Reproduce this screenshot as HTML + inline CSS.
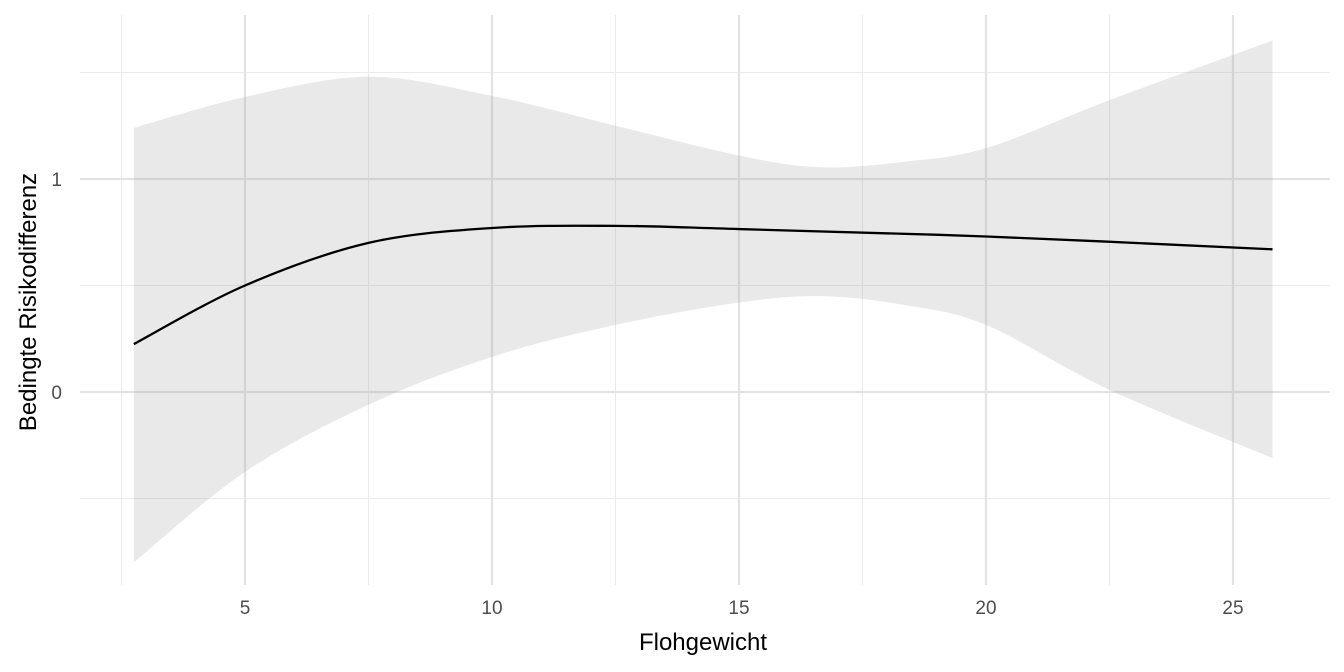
<!DOCTYPE html>
<html><head><meta charset="utf-8"><style>
body{margin:0;background:#fff}
svg{display:block;font-family:"Liberation Sans",Arial,sans-serif}
</style></head><body>
<svg id="chart" width="1344" height="672">
<g id="grid"></g>
<g id="band"></g>
<g id="line"></g>
<g id="ticks"></g>
<text x="703" y="650" text-anchor="middle" font-size="24" fill="#000">Flohgewicht</text>
<text transform="translate(36,302) rotate(-90)" text-anchor="middle" font-size="24" fill="#000">Bedingte Risikodifferenz</text>
</svg>
<script>
const xs=[2.75,5,7.5,10,12.5,15,16.64,18.3,20,22.5,25.8];
const upper=[1.24,1.385,1.48,1.39,1.25,1.11,1.055,1.08,1.145,1.37,1.65];
const lower=[-0.80,-0.375,-0.06,0.165,0.315,0.42,0.45,0.41,0.315,0.01,-0.31];
const lineX=[2.75,5,7.5,10,12.5,15,20,25.8];
const lineY=[0.225,0.50,0.70,0.77,0.78,0.765,0.73,0.67];
const xTicks=[5,10,15,20,25];
const yTicks=[0,1];
const xMinor=[2.5,7.5,12.5,17.5,22.5];
const yMinor=[-0.5,0.5,1.5];
const X=v=>245+(v-5)*49.4;
const Y=v=>392-v*213;
const NS="http://www.w3.org/2000/svg";
function mk(tag,attrs,parent){const e=document.createElementNS(NS,tag);for(const k in attrs)e.setAttribute(k,attrs[k]);document.getElementById(parent).appendChild(e);return e;}
function smooth(pts){let d="M"+pts[0][0]+","+pts[0][1];for(let i=0;i<pts.length-1;i++){const p0=pts[Math.max(i-1,0)],p1=pts[i],p2=pts[i+1],p3=pts[Math.min(i+2,pts.length-1)];d+=" C"+(p1[0]+(p2[0]-p0[0])/6)+","+(p1[1]+(p2[1]-p0[1])/6)+" "+(p2[0]-(p3[0]-p1[0])/6)+","+(p2[1]-(p3[1]-p1[1])/6)+" "+p2[0]+","+p2[1];}return d;}
const L=80,R=1330,T=15,B=585;
xMinor.forEach(v=>{const e=mk("line",{x1:X(v),x2:X(v),y1:T,y2:B,stroke:"#ebebeb","stroke-width":1.1},"grid");
});
yMinor.forEach(v=>{const e=mk("line",{x1:L,x2:R,y1:Y(v),y2:Y(v),stroke:"#ebebeb","stroke-width":1.1},"grid");
});
xTicks.forEach(v=>{const e=mk("line",{x1:X(v),x2:X(v),y1:T,y2:B,stroke:"#e3e3e3","stroke-width":2.2},"grid");

const t=mk("text",{x:X(v),y:614,"text-anchor":"middle","font-size":19,fill:"#4d4d4d"},"ticks");t.textContent=v;
});
yTicks.forEach(v=>{const e=mk("line",{x1:L,x2:R,y1:Y(v),y2:Y(v),stroke:"#e3e3e3","stroke-width":2.2},"grid");

const t=mk("text",{x:62,y:Y(v)+7,"text-anchor":"end","font-size":19,fill:"#4d4d4d"},"ticks");t.textContent=v;
});
const up=xs.map((x,i)=>[X(x),Y(upper[i])]);
const lo=xs.map((x,i)=>[X(x),Y(lower[i])]).reverse();
const dBand=smooth(up)+" L"+lo[0][0]+","+lo[0][1]+smooth(lo).replace(/^M[^C]*/," ")+" Z";
const band=mk("path",{d:dBand,fill:"#999",opacity:0.22},"band");

const ln=mk("path",{d:smooth(lineX.map((x,i)=>[X(x),Y(lineY[i])])),fill:"none",stroke:"#000","stroke-width":2.3},"line");

</script>
</body></html>
